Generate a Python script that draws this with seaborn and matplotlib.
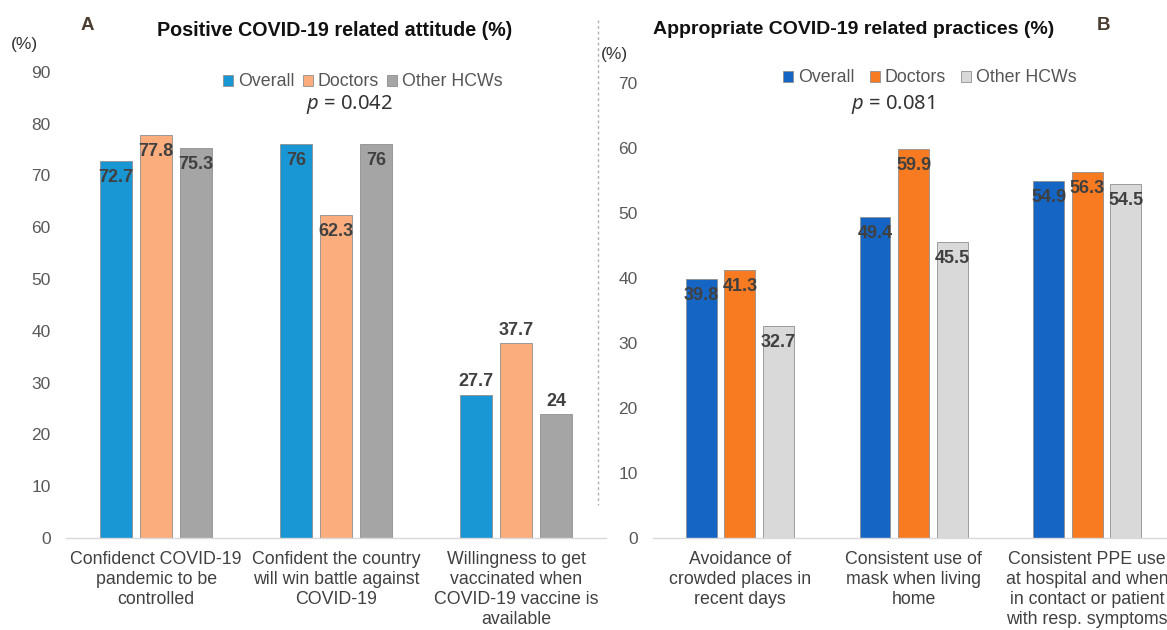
import pandas as pd
import numpy as np
import seaborn as sb
import matplotlib.pyplot as plt
from matplotlib.lines import Line2D

groups = ["Overall", "Doctors", "Other HCWs"]

# panel A - attitude
catsA = ["Confidenct COVID-19\npandemic to be\ncontrolled",
         "Confident the country\nwill win battle against\nCOVID-19",
         "Willingness to get\nvaccinated when\nCOVID-19 vaccine is\navailable"]
overallA = [72.7, 76, 27.7]
doctorsA = [77.8, 62.3, 37.7]
otherA = [75.3, 76, 24]

# panel B - practices
catsB = ["Avoidance of\ncrowded places in\nrecent days",
         "Consistent use of\nmask when living\nhome",
         "Consistent PPE use\nat hospital and when\nin contact or patient\nwith resp. symptoms"]
overallB = [39.8, 49.4, 54.9]
doctorsB = [41.3, 59.9, 56.3]
otherB = [32.7, 45.5, 54.5]

colorsA = ["#1897D4", "#FBAD7D", "#A5A5A5"]
colorsB = ["#1566C4", "#F97B21", "#D9D9D9"]

sb.set_style("white")
plt.rcParams['font.family'] = ['Liberation Sans', 'DejaVu Sans']
plt.rcParams['mathtext.fontset'] = 'custom'
plt.rcParams['mathtext.it'] = 'Noto Sans:italic:bold'
plt.rcParams['mathtext.rm'] = 'Noto Sans'

def make_df(cats, a, b, c):
    rows = []
    for vals, g in zip([a, b, c], groups):
        for cat, v in zip(cats, vals):
            rows.append({"cat": cat, "group": g, "value": v})
    return pd.DataFrame(rows)

fig = plt.figure(figsize=(11.67, 6.3), dpi=100)
axA = fig.add_axes([0.0566, 0.146, 0.463, 0.740])
axB = fig.add_axes([0.5596, 0.146, 0.4465, 0.722])


def draw(ax, df, cats, colors, ymax, inside_mask):
    sb.barplot(data=df, x="cat", y="value", hue="group", order=cats,
               hue_order=groups, palette=colors, saturation=1, width=2 / 3, gap=0.2,
               edgecolor="#8f8f8f", linewidth=0.6, ax=ax, errorbar=None)
    ax.set_ylim(0, ymax)
    ax.set_xlim(-0.5, 2.5)
    ax.set_yticks(np.arange(0, ymax + 1, 10))
    ax.set_xlabel("")
    ax.set_ylabel("")
    for s in ["top", "right", "left"]:
        ax.spines[s].set_visible(False)
    ax.spines["bottom"].set_color("#D9D9D9")
    ax.spines["bottom"].set_linewidth(1.0)
    ax.tick_params(axis="y", length=0, pad=11, labelsize=12.5, labelcolor="#595959")
    ax.tick_params(axis="x", length=0, pad=9, labelsize=12.8, labelcolor="#404040")
    for lbl in ax.get_xticklabels():
        lbl.set_linespacing(1.25)
    for cont in ax.containers:
        vals = [p.get_height() for p in cont]
        inside = ["{:g}".format(v) if m else "" for v, m in zip(vals, inside_mask)]
        outside = ["" if m else "{:g}".format(v) for v, m in zip(vals, inside_mask)]
        ax.bar_label(cont, labels=inside, padding=-18, fontsize=13,
                     fontweight="bold", color="#404040")
        ax.bar_label(cont, labels=outside, padding=3, fontsize=13,
                     fontweight="bold", color="#404040")


dfA = make_df(catsA, overallA, doctorsA, otherA)
dfB = make_df(catsB, overallB, doctorsB, otherB)
draw(axA, dfA, catsA, colorsA, 90, [True, True, False])
draw(axB, dfB, catsB, colorsB, 70, [True, True, True])

axA.legend(loc="center", bbox_to_anchor=(363 / 1167, 1 - 82 / 630),
           bbox_transform=fig.transFigure, ncol=3, frameon=False,
           handlelength=0.55, handleheight=0.55, handletextpad=0.3,
           columnspacing=0.45, fontsize=12.8, labelcolor="#555555")
axB.legend(loc="center", bbox_to_anchor=(930 / 1167, 1 - 78 / 630),
           bbox_transform=fig.transFigure, ncol=3, frameon=False,
           handlelength=0.55, handleheight=0.55, handletextpad=0.3,
           columnspacing=0.85, fontsize=12.8, labelcolor="#555555")

# titles, panel letters and p-values
fig.text(335 / 1167, 1 - 30 / 630, "Positive COVID-19 related attitude (%)",
         ha="center", va="center", fontsize=14.2, fontweight="bold", color="#111111")
fig.text(854 / 1167, 1 - 30 / 630, "Appropriate COVID-19 related practices (%)",
         ha="center", va="center", fontsize=14.0, fontweight="bold", color="#111111")
fig.text(87 / 1167, 1 - 25 / 630, "A", ha="center", va="center", fontsize=13.5,
         fontweight="bold", color="#4a3c2e")
fig.text(1103 / 1167, 1 - 25 / 630, "B", ha="center", va="center", fontsize=13.5,
         fontweight="bold", color="#4a3c2e")
fig.text(24 / 1167, 1 - 44 / 630, "(%)", ha="center", va="center", fontsize=12.5,
         color="#333333")
fig.text(614 / 1167, 1 - 54 / 630, "(%)", ha="center", va="center", fontsize=12.5,
         color="#333333")
fig.text(349 / 1167, 1 - 105 / 630, r"$\mathit{p}$ = 0.042", ha="center", va="center",
         fontsize=14.5, family="Noto Sans", fontweight="bold", color="#333333")
fig.text(893 / 1167, 1 - 105 / 630, r"$\mathit{p}$ = 0.081", ha="center", va="center",
         fontsize=14.5, family="Noto Sans", fontweight="bold", color="#333333")

# dashed separator between panels
fig.add_artist(Line2D([598 / 1167, 598 / 1167], [1 - 20 / 630, 1 - 505 / 630],
                      transform=fig.transFigure, color="#AFAFAF", lw=1.0,
                      linestyle=(0, (2, 2))))

fig.savefig("out.png", dpi=100)
